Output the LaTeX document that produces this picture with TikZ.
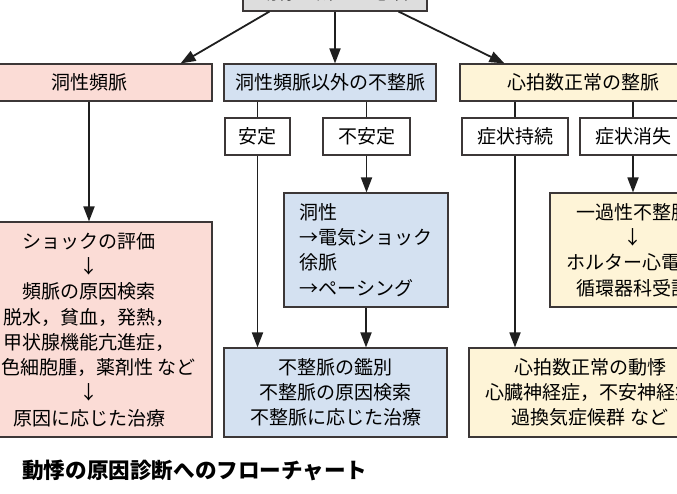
\documentclass[tikz,border=0pt]{standalone}
\usepackage{fontspec}
\setmainfont{Noto Sans CJK JP}
\usetikzlibrary{arrows.meta}
\definecolor{pinkfill}{RGB}{251,220,214}
\definecolor{bluefill}{RGB}{212,225,241}
\definecolor{creamfill}{RGB}{254,244,215}
\definecolor{grayfill}{RGB}{221,221,221}
\definecolor{edge}{RGB}{60,55,55}
\tikzset{
  box/.style={draw=edge, line width=1.1pt, inner sep=0pt, align=center,
    font=\fontsize{19}{25.3}\selectfont},
  selbox/.style={box, fill=white, minimum height=37pt},
  arr/.style={line width=1.8pt, draw=black!88, -{Triangle[length=15pt,width=11pt]}},
  ln/.style={line width=1.8pt, draw=black!88}
}

\begin{document}
\begin{tikzpicture}[x=1pt,y=-1pt]
\useasboundingbox (0,0) rectangle (677,494);
\fill[white] (0,0) rectangle (677,494);
\clip (0,0) rectangle (677,494);
% top:
\node[box, fill=grayfill, minimum width=184pt, minimum height=38pt] (top) at (335,-8) {動悸を訴える患者};
% first row:
\node[box, fill=pinkfill, minimum width=246pt, minimum height=37pt] (rowA) at (89,82.5) {洞性頻脈};
\node[box, fill=bluefill, minimum width=212pt, minimum height=37pt] (rowB) at (330,82.5) {洞性頻脈以外の不整脈};
\node[box, fill=creamfill, minimum width=246pt, minimum height=37pt] (rowC) at (583,82.5) {心拍数正常の整脈};
% second row:
\node[selbox, minimum width=65pt] (anzen) at (257.5,136.5) {安定};
\node[selbox, minimum width=87pt] (fuan) at (366.5,136.5) {不安定};
\node[selbox, minimum width=106pt] (jizoku) at (515,136.5) {症状持続};
\node[selbox, minimum width=106pt] (shoshitsu) at (633,136.5) {症状消失};
% boxes:
\node[box, fill=pinkfill, minimum width=246pt, minimum height=215pt] (shock) at (89,329.5)
  {ショックの評価\\↓\\頻脈の原因検索\\脱水，貧血，発熱，\\甲状腺機能亢進症，\\褐色細胞腫，薬剤性 など\\↓\\原因に応じた治療};
\node[box, fill=bluefill, minimum width=164pt, minimum height=114pt, align=left] (josou) at (366,250)
  {洞性\\→電気ショック\\徐脈\\→ペーシング};
\node[box, fill=creamfill, minimum width=166pt, minimum height=114pt] (kahei) at (633,250)
  {一過性不整脈\\↓\\ホルター心電図\\循環器科受診};
\node[box, fill=bluefill, minimum width=223pt, minimum height=89pt] (kanbetsu) at (335.5,392.5)
  {不整脈の鑑別\\不整脈の原因検索\\不整脈に応じた治療};
\node[box, fill=creamfill, minimum width=242pt, minimum height=89pt] (seimyaku) at (590,392.5)
  {心拍数正常の動悸\\心臓神経症，不安神経症\\過換気症候群 など};
% caption:
\node[anchor=west, inner sep=0pt, font=\fontsize{21.6}{24}\selectfont\bfseries] (caption) at (22,470)
  {動悸の原因診断へのフローチャート};
% arrows:
\draw[arr] ([xshift=27pt]top.south west) -- ([xshift=-32pt]rowA.north east);
\draw[arr] (top.south) -- (top.south |- rowB.north);
\draw[arr] ([xshift=-29pt]top.south east) -- ([xshift=45pt]rowC.north west);
\draw[arr] (rowA.south) -- (rowA.south |- shock.north);
\draw[ln] (anzen.north |- rowB.south) -- (anzen.north);
\draw[ln] (fuan.north |- rowB.south) -- (fuan.north);
\draw[arr] (anzen.south) -- (anzen.south |- kanbetsu.north);
\draw[arr] (fuan.south) -- (fuan.south |- josou.north);
\draw[arr] (josou.south) -- (josou.south |- kanbetsu.north);
\draw[ln] (jizoku.north |- rowC.south) -- (jizoku.north);
\draw[ln] (shoshitsu.north |- rowC.south) -- (shoshitsu.north);
\draw[arr] (jizoku.south) -- (jizoku.south |- seimyaku.north);
\draw[arr] (shoshitsu.south) -- (shoshitsu.south |- kahei.north);
\end{tikzpicture}
\end{document}
